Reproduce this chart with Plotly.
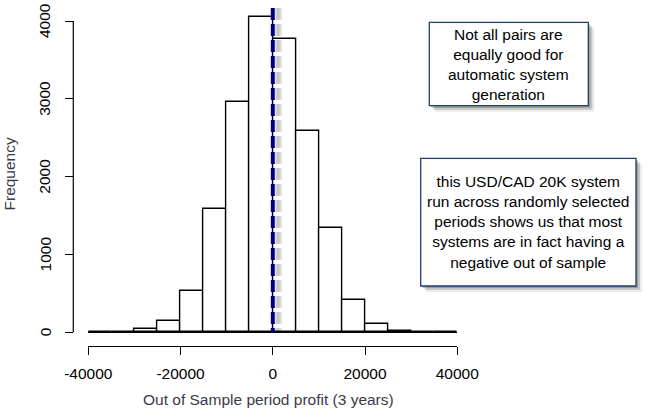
import plotly.graph_objects as go

# ---- data ----
bin_edges = [-40000, -35000, -30000, -25000, -20000, -15000, -10000, -5000, 0,
             5000, 10000, 15000, 20000, 25000, 30000, 35000, 40000]
counts = [0, 0, 40, 145, 527, 1581, 2956, 4049, 3774, 2590, 1337, 411, 103, 13, 10, 0]
x_ticks = [-40000, -20000, 0, 20000, 40000]
y_ticks = [0, 1000, 2000, 3000, 4000]
breakeven = 0
x_title = "Out of Sample period profit (3 years)"
y_title = "Frequency"
note1 = "Not all pairs are<br>equally good for<br>automatic system<br>generation"
note2 = ("this USD/CAD 20K system<br>run across randomly selected<br>periods shows us that most"
         "<br>systems are in fact having a<br>negative out of sample")

W, H = 671, 418
centers = [(a + b) / 2 for a, b in zip(bin_edges[:-1], bin_edges[1:])]
widths = [b - a for a, b in zip(bin_edges[:-1], bin_edges[1:])]

def px_x(p):
    return p / W

def px_y(p):
    return 1 - p / H

# geometry (pixels)
x_left, x_right = 88.3, 457.3
y_zero_px, y_4000_px = 332.3, 21.0
scale = (y_zero_px - y_4000_px) / 4000.0
dom_top_px, dom_bot_px = 8.0, 333.5
y_hi = (y_zero_px - dom_top_px) / scale
y_lo = (y_zero_px - dom_bot_px) / scale

fig = go.Figure()
fig.add_trace(go.Bar(
    x=centers, y=counts, width=widths,
    marker=dict(color="white", line=dict(color="black", width=1.4)),
    hoverinfo="x+y", showlegend=False,
))

font = "Liberation Sans, Arial, sans-serif"
fig.update_layout(
    width=W, height=H,
    margin=dict(l=0, r=0, t=0, b=0, autoexpand=False),
    paper_bgcolor="white", plot_bgcolor="white",
    bargap=0,
    font=dict(family=font, size=15.5, color="black"),
    xaxis=dict(
        domain=[px_x(x_left), px_x(x_right)],
        range=[bin_edges[0], bin_edges[-1]],
        anchor="free", position=px_y(345.7),
        showgrid=False, zeroline=False, automargin=False,
        showline=True, linecolor="black", linewidth=1.2,
        ticks="outside", ticklen=8, tickwidth=1.2, tickcolor="black",
        tickvals=x_ticks, ticktext=[str(v) for v in x_ticks],
        ticklabelstandoff=6,
        tickfont=dict(size=15.5, color="black"),
    ),
    yaxis=dict(
        domain=[px_y(dom_bot_px), px_y(dom_top_px)],
        range=[y_lo, y_hi],
        anchor="free", position=px_x(73.3),
        showgrid=False, automargin=False,
        zeroline=True, zerolinecolor="black", zerolinewidth=1.2,
        showline=False,
        ticks="outside", ticklen=8, tickwidth=1.2, tickcolor="black",
        tickvals=y_ticks, showticklabels=False,
    ),
)

shapes = []
# y axis line from first to last tick
shapes.append(dict(type="line", xref="paper", yref="y",
                   x0=px_x(73.3), x1=px_x(73.3), y0=y_ticks[0], y1=y_ticks[-1],
                   line=dict(color="black", width=1.2), layer="above"))
# shadow of the vertical break-even line
for off, op in [(4, 0.12), (6, 0.12), (8, 0.06)]:
    shapes.append(dict(type="line", xref="x", yref="y",
                       xsizemode="pixel", xanchor=breakeven, x0=off, x1=off,
                       y0=y_hi, y1=0,
                       line=dict(color=f"rgba(0,0,0,{op})", width=4, dash="12px,4px"),
                       layer="above"))
shapes.append(dict(type="line", xref="x", yref="y",
                   x0=breakeven, x1=breakeven, y0=y_hi, y1=0,
                   line=dict(color="#00007F", width=4, dash="12px,4px"),
                   layer="above"))

# note boxes (pixel boxes) with soft shadows
boxes = [
    (429.3, 22.3, 588.3, 105.7, note1),
    (420.7, 158.3, 636.0, 286.0, note2),
]
for x0, y0, x1, y1, txt in boxes:
    for off, op in [(2, 0.22), (4, 0.16), (6, 0.08)]:
        shapes.append(dict(type="rect", xref="paper", yref="paper",
                           x0=px_x(x0 + off), x1=px_x(x1 + off),
                           y0=px_y(y1 + off), y1=px_y(y0 + off),
                           line=dict(width=0), fillcolor=f"rgba(0,0,0,{op})",
                           layer="above"))
    shapes.append(dict(type="rect", xref="paper", yref="paper",
                       x0=px_x(x0), x1=px_x(x1), y0=px_y(y1), y1=px_y(y0),
                       line=dict(color="#1F3F6F", width=1.3), fillcolor="white",
                       layer="above"))

fig.update_layout(shapes=shapes)

annotations = []
# rotated y tick labels (R style, reading bottom to top)
for v in y_ticks:
    annotations.append(dict(
        xref="paper", yref="y", x=px_x(45), y=v,
        xanchor="center", yanchor="middle", text=str(v), showarrow=False,
        textangle=-90, font=dict(size=15.5, color="black", family=font),
    ))
for x0, y0, x1, y1, txt in boxes:
    annotations.append(dict(
        xref="paper", yref="paper",
        x=px_x((x0 + x1) / 2), y=px_y((y0 + y1) / 2),
        xanchor="center", yanchor="middle",
        text=txt, showarrow=False, align="center",
        font=dict(size=15.5, color="black", family=font),
    ))
annotations.append(dict(
    xref="paper", yref="paper", x=px_x(268), y=px_y(399),
    xanchor="center", yanchor="middle", text=x_title, showarrow=False,
    font=dict(size=15.5, color="#3A3A48", family=font),
))
annotations.append(dict(
    xref="paper", yref="paper", x=px_x(8.5), y=px_y(174),
    xanchor="center", yanchor="middle", text=y_title, showarrow=False,
    textangle=-90,
    font=dict(size=15.5, color="#3A3A48", family=font),
))
fig.update_layout(annotations=annotations)

fig.write_html(
    "out.html",
    config={"displayModeBar": False},
    post_script="document.body.style.margin='0px';document.body.style.padding='0px';"
                "document.body.style.overflow='hidden';",
)
